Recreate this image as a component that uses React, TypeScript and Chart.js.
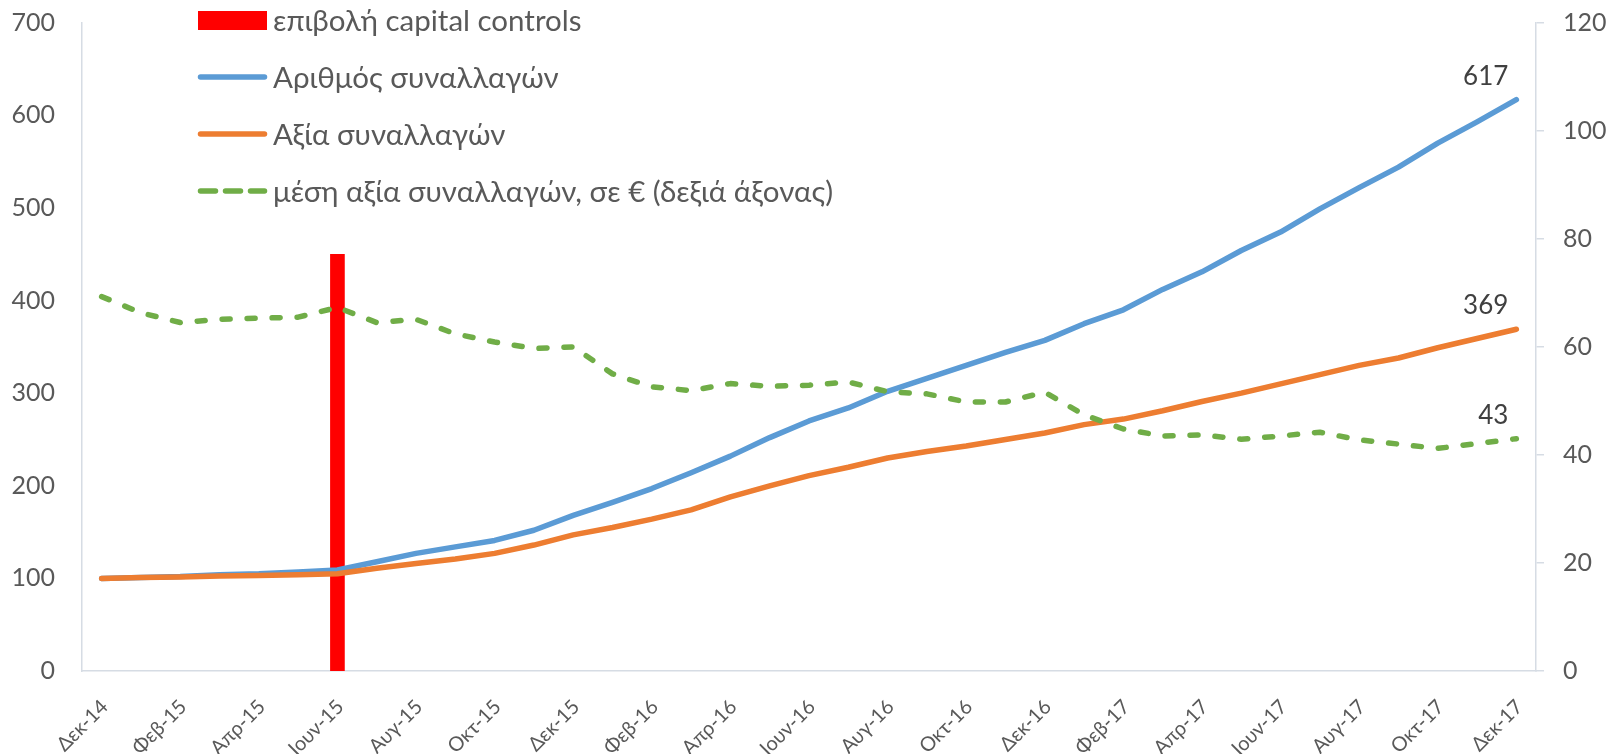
import React, { useEffect, useRef } from 'react';
import { Chart, registerables } from 'chart.js';

Chart.register(...registerables);

const categories = [
  'Δεκ-14', 'Ιαν-15', 'Φεβ-15', 'Μαρ-15', 'Απρ-15', 'Μαϊ-15', 'Ιουν-15', 'Ιουλ-15', 'Αυγ-15', 'Σεπ-15', 'Οκτ-15', 'Νοε-15',
  'Δεκ-15', 'Ιαν-16', 'Φεβ-16', 'Μαρ-16', 'Απρ-16', 'Μαϊ-16', 'Ιουν-16', 'Ιουλ-16', 'Αυγ-16', 'Σεπ-16', 'Οκτ-16', 'Νοε-16',
  'Δεκ-16', 'Ιαν-17', 'Φεβ-17', 'Μαρ-17', 'Απρ-17', 'Μαϊ-17', 'Ιουν-17', 'Ιουλ-17', 'Αυγ-17', 'Σεπ-17', 'Οκτ-17', 'Νοε-17',
  'Δεκ-17',
];

const capitalControls = [
  null, null, null, null, null, null, 450, null, null, null, null, null,
  null, null, null, null, null, null, null, null, null, null, null, null,
  null, null, null, null, null, null, null, null, null, null, null, null,
  null,
];

const transactionsCount = [
  100, 101, 102, 104, 105, 107, 109, 118, 127, 134, 141, 152,
  168, 182, 197, 214, 232, 252, 270, 284, 302, 316, 330, 344,
  357, 375, 390, 412, 431, 454, 474, 499, 522, 544, 570, 593,
  617,
];

const transactionsValue = [
  100, 101, 101.5, 102.5, 103, 104, 105, 111, 116, 121, 127, 136,
  147, 155, 164, 174, 188, 200, 211, 220, 230, 237, 243, 250,
  257, 266, 272, 281, 291, 300, 310, 320, 330, 338, 349, 359,
  369,
];

const averageValue = [
  69.3, 66.3, 64.5, 65.1, 65.3, 65.5, 67.3, 64.5, 65.1, 62.4, 60.9, 59.7,
  60.0, 55.0, 52.6, 51.9, 53.2, 52.7, 52.9, 53.5, 51.7, 51.3, 49.8, 49.8,
  51.6, 47.4, 44.8, 43.5, 43.7, 42.9, 43.5, 44.2, 42.8, 42.0, 41.2, 42.1,
  43.0,
];

const seriesNames = [
  'επιβολή capital controls',
  'Αριθμός συναλλαγών',
  'Αξία συναλλαγών',
  'μέση αξία συναλλαγών, σε € (δεξιά άξονας)',
];

const RED = '#FF0000';
const BLUE = '#5B9BD5';
const ORANGE = '#ED7D31';
const GREEN = '#70AD47';
const AXIS = '#D6DCE4';
const TICK = '#595959';
const FONT = 'Lato';

const legendPlugin = {
  id: 'customLegend',
  afterDraw(chart: any) {
    const ctx = chart.ctx;
    const sx = 198;
    const ex = 267;
    const tx = 273;
    const rows = [20.5, 77, 134, 191];
    ctx.save();
    ctx.fillStyle = RED;
    ctx.fillRect(sx, rows[0] - 9.5, ex - sx, 19);
    const drawLine = (y: number, color: string, dash: number[]) => {
      ctx.beginPath();
      ctx.strokeStyle = color;
      ctx.lineWidth = 5.5;
      ctx.lineCap = 'round';
      ctx.setLineDash(dash);
      ctx.moveTo(sx + 2.5, y);
      ctx.lineTo(ex - 2.5, y);
      ctx.stroke();
    };
    drawLine(rows[1], BLUE, []);
    drawLine(rows[2], ORANGE, []);
    drawLine(rows[3], GREEN, [15, 10]);
    ctx.setLineDash([]);
    ctx.fillStyle = TICK;
    ctx.font = `29.5px ${FONT}`;
    ctx.textAlign = 'left';
    ctx.textBaseline = 'middle';
    seriesNames.forEach((n, i) => ctx.fillText(n, tx, rows[i] + 1));
    ctx.restore();
  },
};

const endLabelPlugin = {
  id: 'endLabels',
  afterDatasetsDraw(chart: any) {
    const ctx = chart.ctx;
    ctx.save();
    ctx.fillStyle = '#404040';
    ctx.font = `26px ${FONT}`;
    ctx.textAlign = 'right';
    ctx.textBaseline = 'alphabetic';
    [1, 2, 3].forEach((di) => {
      const meta = chart.getDatasetMeta(di);
      const data = chart.data.datasets[di].data;
      const last = data.length - 1;
      const pt = meta.data[last];
      if (!pt) return;
      ctx.fillText(String(Math.round(data[last])), pt.x - 8, pt.y - 15);
    });
    ctx.restore();
  },
};

export default function App() {
  const ref = useRef<HTMLCanvasElement | null>(null);

  useEffect(() => {
    document.body.style.margin = '0';
    const canvas = ref.current;
    if (!canvas) return;
    const chart = new Chart(canvas, {
      type: 'bar',
      data: {
        labels: categories,
        datasets: [
          {
            type: 'bar',
            label: seriesNames[0],
            data: capitalControls,
            backgroundColor: RED,
            barThickness: 14,
            yAxisID: 'y',
            order: 4,
          } as any,
          {
            type: 'line',
            label: seriesNames[1],
            data: transactionsCount,
            borderColor: BLUE,
            backgroundColor: BLUE,
            borderWidth: 5.5,
            pointRadius: 0,
            tension: 0,
            borderCapStyle: 'round',
            borderJoinStyle: 'round',
            yAxisID: 'y',
            order: 3,
          },
          {
            type: 'line',
            label: seriesNames[2],
            data: transactionsValue,
            borderColor: ORANGE,
            backgroundColor: ORANGE,
            borderWidth: 5.5,
            pointRadius: 0,
            tension: 0,
            borderCapStyle: 'round',
            borderJoinStyle: 'round',
            yAxisID: 'y',
            order: 2,
          },
          {
            type: 'line',
            label: seriesNames[3],
            data: averageValue,
            borderColor: GREEN,
            backgroundColor: GREEN,
            borderWidth: 5.5,
            borderDash: [8, 17],
            pointRadius: 0,
            tension: 0,
            borderCapStyle: 'round',
            borderJoinStyle: 'round',
            yAxisID: 'y1',
            order: 1,
          },
        ],
      },
      options: {
        animation: false,
        responsive: true,
        maintainAspectRatio: false,
        layout: { padding: { top: 22.7, left: 0, right: 0, bottom: 0 } },
        plugins: {
          legend: { display: false },
          tooltip: { enabled: false },
        },
        scales: {
          x: {
            type: 'category',
            offset: true,
            grid: { display: false, drawTicks: false },
            border: { display: true, color: AXIS, width: 1.5 },
            ticks: {
              autoSkip: false,
              minRotation: 45,
              maxRotation: 45,
              padding: 24,
              labelOffset: 3,
              color: TICK,
              font: { family: FONT, size: 20 },
              callback: function (this: any, v: any, i: number) {
                return i % 2 === 0 ? this.getLabelForValue(v) : '';
              },
            },
            afterFit: (s: any) => {
              s.height = 83;
              s.paddingLeft = 0;
              s.paddingRight = 0;
            },
          },
          y: {
            position: 'left',
            min: 0,
            max: 700,
            grid: { display: false, drawTicks: false },
            border: { display: true, color: AXIS, width: 1.5 },
            ticks: {
              stepSize: 100,
              padding: 27,
              color: TICK,
              font: { family: FONT, size: 25 },
            },
            afterFit: (s: any) => {
              s.width = 82;
              s.paddingTop = 0;
              s.paddingBottom = 0;
            },
          },
          y1: {
            position: 'right',
            min: 0,
            max: 120,
            grid: {
              display: true,
              drawOnChartArea: false,
              drawTicks: true,
              tickLength: 8,
              color: AXIS,
              lineWidth: 1.5,
            },
            border: { display: true, color: AXIS, width: 1.5 },
            ticks: {
              stepSize: 20,
              padding: 19,
              color: TICK,
              font: { family: FONT, size: 25 },
            },
            afterFit: (s: any) => {
              s.width = 80;
              s.paddingTop = 0;
              s.paddingBottom = 0;
            },
          },
        },
      },
      plugins: [legendPlugin, endLabelPlugin],
    } as any);
    if ((document as any).fonts && (document as any).fonts.ready) {
      (document as any).fonts.ready.then(() => chart.update());
    }
    return () => chart.destroy();
  }, []);

  return (
    <div style={{ position: 'fixed', left: 0, top: 0, width: 1616, height: 754, background: '#fff' }}>
      <canvas ref={ref} />
    </div>
  );
}
